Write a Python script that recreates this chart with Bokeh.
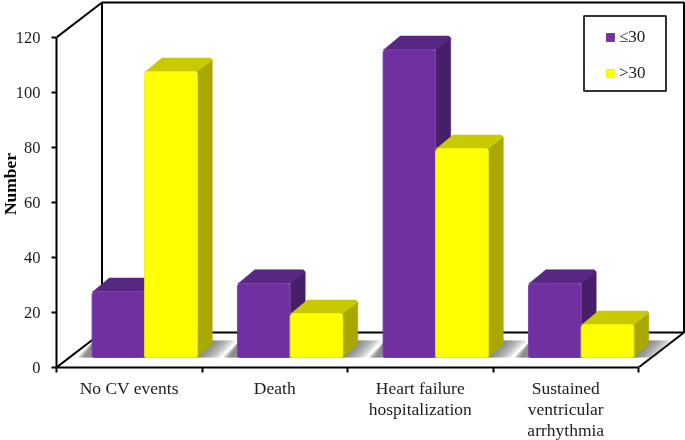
from bokeh.plotting import figure
from bokeh.models import FixedTicker, Legend, LegendItem, Range1d
from bokeh.embed import file_html
from bokeh.resources import INLINE

categories = ["No CV events", "Death", "Heart failure\nhospitalization", "Sustained\nventricular\narrhythmia"]
low_values = [24, 27, 112, 27]
high_values = [104, 16, 76, 12]
y_ticks = [0, 20, 40, 60, 80, 100, 120]
series_names = ["\u226430", ">30"]

PX_X = 145.5   # px per category
PX_Y = 2.75    # px per unit
WALL_DX, WALL_DY = 45.5 / PX_X, 35 / PX_Y
BASE = 10 / PX_Y
BAR_W = 52.6 / PX_X
GROUP_C = 88.2 / PX_X
D_X, D_Y = 15 / PX_X, 13.5 / PX_Y
CX, CY = 2.2 / PX_X, 2.2 / PX_Y
N = len(categories)

p = figure(frame_width=629, frame_height=367, output_backend="svg", toolbar_location=None,
           x_range=Range1d(0, 629 / PX_X), y_range=Range1d(0, 367 / PX_Y),
           min_border_left=61, min_border_right=0, min_border_top=0, min_border_bottom=60,
           outline_line_color=None, x_axis_type="linear",
           styles={"position": "fixed", "left": "-5px", "top": "0px"})
p.grid.visible = False
p.background_fill_color = "white"

FONT = "Liberation Serif"
TXT = "#1c1c1c"
ya, xa = p.yaxis[0], p.xaxis[0]
ya.ticker = FixedTicker(ticks=y_ticks)
ya.bounds = (0, y_ticks[-1])
ya.axis_line_color = "black"; ya.axis_line_width = 2
ya.major_tick_line_color = "black"; ya.major_tick_line_width = 2
ya.major_tick_out = 5; ya.major_tick_in = 0; ya.minor_tick_line_color = None
ya.major_label_text_font = FONT; ya.major_label_text_font_size = "16.5px"
ya.major_label_text_color = TXT; ya.major_label_standoff = 11
ya.axis_label = "Number"; ya.axis_label_text_font = FONT
ya.axis_label_text_font_size = "17.5px"; ya.axis_label_text_font_style = "bold"
ya.axis_label_text_color = "black"; ya.axis_label_standoff = -7

cat_pos = [i + 0.5 for i in range(N)]
xa.ticker = FixedTicker(ticks=cat_pos, minor_ticks=list(range(N + 1)))
xa.major_label_overrides = {c: l for c, l in zip(cat_pos, categories)}
xa.bounds = (0, N)
xa.axis_line_color = "black"; xa.axis_line_width = 2
xa.major_tick_line_color = None; xa.major_tick_in = 0; xa.major_tick_out = 0
xa.minor_tick_line_color = "black"; xa.minor_tick_line_width = 2
xa.minor_tick_out = 5; xa.minor_tick_in = 0
xa.major_label_text_font = FONT; xa.major_label_text_font_size = "17.5px"
xa.major_label_text_color = TXT; xa.major_label_standoff = 5
xa.major_label_text_line_height = 1.07
xa.major_label_orientation = "horizontal"

# walls and floor
top = y_ticks[-1]
p.multi_line(
    xs=[[0, WALL_DX], [0, WALL_DX], [N, N + WALL_DX],
        [WALL_DX, WALL_DX, N + WALL_DX, N + WALL_DX, WALL_DX]],
    ys=[[top, top + WALL_DY], [0, WALL_DY], [0, WALL_DY],
        [top + WALL_DY, WALL_DY, WALL_DY, top + WALL_DY, top + WALL_DY]],
    line_color="black", line_width=2)

# floor shadows
sh_x, sh_y = [], []
for i in range(N):
    c = i + GROUP_C
    for k in range(1, 8):
        ext = k * 3.2 / PX_X
        l, r = c - BAR_W, c + BAR_W
        sh_x.append([l - 15 / PX_X + (7 - k) * 1.2 / PX_X, r + ext, r + ext + 16 / PX_X,
                     l + 2 / PX_X])
        sh_y.append([BASE, BASE, BASE + 17 / PX_Y, BASE + 17 / PX_Y])
p.patches(sh_x, sh_y, fill_color="#666666", fill_alpha=0.17, line_color=None)


def face_polys(values, off):
    sides, tops, fronts = ([], []), ([], []), ([], [])
    for i, v in enumerate(values):
        x0 = i + GROUP_C + off * BAR_W
        x1 = x0 + BAR_W
        t = BASE + v
        sides[0].append([x1, x1 + D_X, x1 + D_X, x1 + D_X - CX, x1])
        sides[1].append([BASE, BASE + D_Y, t + D_Y - CY, t + D_Y, t])
        tops[0].append([x0 + CX, x0 + D_X + CX, x1 + D_X - CX, x1 + D_X, x1, x0])
        tops[1].append([t + CY * .5, t + D_Y, t + D_Y, t + D_Y - CY, t, t - CY * .2])
        fronts[0].append([x0, x0 + CX, x1 - CX, x1, x1, x1 - CX, x0 + CX, x0])
        fronts[1].append([BASE + CY * .4, BASE, BASE, BASE + CY * .4, t - CY, t, t, t - CY])
    return sides, tops, fronts


styles = [("#461F68", "#572782", "#7030A0", "#7A3CAB"), ("#A8A800", "#C9C900", "#FFFF00", "#F0F010")]
items = []
for (vals, off, st, name) in zip([low_values, high_values], [-1, 0], styles, series_names):
    s, t, f = face_polys(vals, off)
    p.patches(s[0], s[1], fill_color=st[0], line_color=st[0], line_width=0.5)
    p.patches(t[0], t[1], fill_color=st[1], line_color=st[1], line_width=0.5)
    r = p.patches(f[0], f[1], fill_color=st[2], line_color=st[3], line_width=1)
    items.append(LegendItem(label=name, renderers=[r]))

# legend frame
p.quad(left=[527.5 / PX_X], right=[609.5 / PX_X], bottom=[276.5 / PX_Y], top=[351.5 / PX_Y],
       fill_color="white", line_color="#333333", line_width=2)

legend = Legend(items=items, location=(549, 284), orientation="vertical",
                padding=0, margin=0, spacing=16, glyph_width=10, glyph_height=10,
                label_standoff=4, label_text_font=FONT, label_text_font_size="17px",
                label_text_color=TXT, border_line_color=None, background_fill_alpha=0)
p.add_layout(legend, "center")

open("out.html", "w").write(file_html(p, INLINE))
